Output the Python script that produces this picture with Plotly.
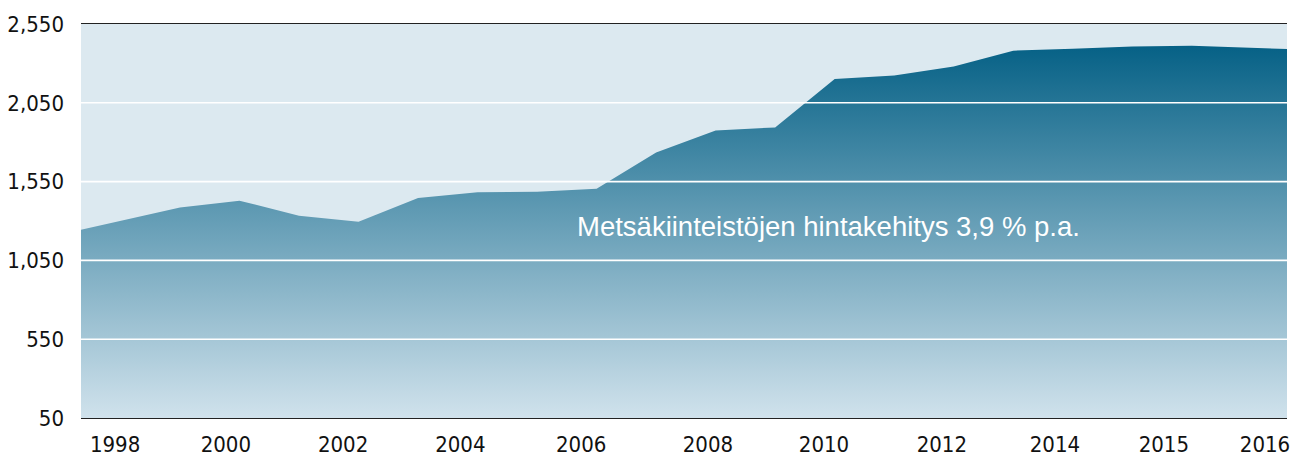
import plotly.graph_objects as go

# Data (period index -> price level)
period = list(range(22))
price = [1215, 1301, 1386, 1429, 1334, 1296, 1446, 1482, 1486, 1505, 1735,
         1875, 1894, 2201, 2224, 2281, 2381, 2393, 2408, 2412, 2398, 2386]

tick_labels = ["1998", "2000", "2002", "2004", "2006", "2008",
               "2010", "2012", "2014", "2015", "2016"]
tick_pos = [0.91, 2.77, 4.74, 6.71, 8.74, 10.87, 12.82, 14.80, 16.70, 18.53, 20.23]
y_ticks = [50, 550, 1050, 1550, 2050, 2550]
grid_vals = [550, 1050, 1550, 2050]

annotation_text = "Metsäkiinteistöjen hintakehitys 3,9 % p.a."

narrow = "Liberation Sans Narrow, Arial Narrow, DejaVu Sans Condensed, sans-serif"

fig = go.Figure()
fig.add_trace(go.Scatter(
    x=period, y=price, mode="lines", line=dict(width=0, color="#086286"),
    fill="tozeroy",
    fillgradient=dict(type="vertical",
                      colorscale=[[0, "#d0e2ec"], [1, "#066186"]],
                      start=50, stop=max(price)),
    hoverinfo="skip", showlegend=False,
))

for g in grid_vals:
    fig.add_shape(type="line", xref="paper", yref="y", x0=0, x1=1, y0=g, y1=g,
                  line=dict(color="white", width=1.6), layer="above")

fig.add_annotation(text=annotation_text, xref="paper", yref="paper",
                   x=0.62, y=0.487, showarrow=False,
                   font=dict(family="Liberation Sans, Arial, sans-serif", size=27.5, color="white"))

fig.update_layout(
    width=1301, height=454,
    margin=dict(l=73, r=22, t=16, b=44, autoexpand=False),
    paper_bgcolor="white", plot_bgcolor="#dce9f0",
    xaxis=dict(range=[0.337, 20.6], tickvals=tick_pos, ticktext=tick_labels,
               showgrid=False, zeroline=False, showline=True, mirror=True,
               linecolor="#222222", linewidth=1.2, ticks="", ticklabelstandoff=6,
               automargin=False,
               tickfont=dict(family=narrow, size=22, color="#111111")),
    yaxis=dict(range=[50, 2550], tickvals=y_ticks, tickformat=",",
               showgrid=False, zeroline=False, showline=False, ticks="",
               ticklabelstandoff=16, automargin=False,
               tickfont=dict(family=narrow, size=22, color="#111111")),
)

fig.write_html("out.html")
